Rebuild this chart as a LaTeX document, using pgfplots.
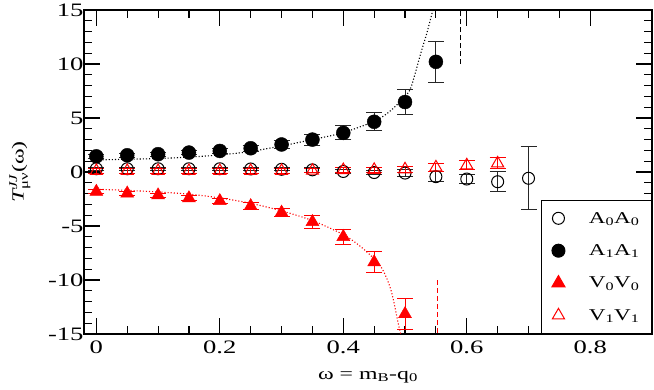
\documentclass[border=0pt]{standalone}
\usepackage{amsmath}
\usepackage{fontspec}
\setmainfont{Liberation Serif}[FakeStretch=1.4]
\usepackage{pgfplots}
\pgfplotsset{compat=1.18}

% A0A0 open circles, A1A1 filled circles, V0V0 filled triangles, V1V1 open triangles
\pgfplotstableread{
x     y      e
0.00  0.30   0.15
0.05  0.30   0.15
0.10  0.30   0.15
0.15  0.30   0.15
0.20  0.30   0.15
0.25  0.28   0.15
0.30  0.25   0.15
0.35  0.20   0.20
0.40  0.05   0.20
0.45  -0.05  0.20
0.50  -0.10  0.30
0.55  -0.43  0.45
0.60  -0.65  0.45
0.65  -0.90  0.95
0.70  -0.58  2.90
}\tabAzero
\pgfplotstableread{
x     y      e
0.00  1.45   0.20
0.05  1.55   0.20
0.10  1.65   0.20
0.15  1.80   0.20
0.20  1.95   0.25
0.25  2.20   0.30
0.30  2.55   0.40
0.35  3.00   0.50
0.40  3.62   0.65
0.45  4.65   0.85
0.50  6.48   1.20
0.55  10.20  1.90
}\tabAone
\pgfplotstableread{
x     y      e
0.00  -1.82  0.20
0.05  -1.98  0.20
0.10  -2.15  0.20
0.15  -2.42  0.20
0.20  -2.68  0.25
0.25  -3.15  0.30
0.30  -3.75  0.40
0.35  -4.62  0.60
0.40  -6.00  0.72
0.45  -8.35  1.00
0.50  -13.15 1.45
}\tabVzero
\pgfplotstableread{
x     y      e
0.00  0.10   0.20
0.05  0.10   0.20
0.10  0.10   0.20
0.15  0.10   0.20
0.20  0.10   0.20
0.25  0.10   0.20
0.30  0.10   0.20
0.35  0.12   0.20
0.40  0.18   0.22
0.45  0.20   0.25
0.50  0.25   0.30
0.55  0.43   0.40
0.60  0.62   0.40
0.65  0.80   0.50
}\tabVone

\begin{document}
\begin{tikzpicture}
\begin{axis}[
  at={(0,0)}, anchor=south west,
  scale only axis,
  width=568pt, height=324pt,
  xmin=-0.02, xmax=0.9,
  ymin=-15, ymax=15,
  xtick={0,0.2,0.4,0.6,0.8},
  xticklabels={0,0.2,0.4,0.6,0.8},
  ytick={-15,-10,-5,0,5,10,15},
  yticklabels={-15,-10,-5,0,5,10,15},
  minor x tick num=3,
  minor y tick num=4,
  tick align=inside,
  major tick length=16pt,
  minor tick length=8pt,
  axis line style={line width=1.1pt},
  every tick/.style={black, line width=1.1pt},
  tick label style={font=\fontsize{19}{21}\selectfont},
  xticklabel style={yshift=-3pt},
  yticklabel style={xshift=3pt},
  label style={font=\fontsize{17}{19}\selectfont},
  xlabel={ω = m\textsubscript{B}-q\textsubscript{0}},
  ylabel={$\textit{T}^{\textit{JJ}}_{\text{μν}}\text{(ω)}$},
  xlabel style={at={(axis description cs:0.5,0)}, anchor=base, yshift=-45pt},
  ylabel style={at={(axis description cs:-0.088,0.5)}, anchor=south},
  legend style={
    at={(1,0)}, anchor=south east,
    draw=black, line width=1pt,
    font=\fontsize{16.5}{18}\selectfont,
    inner xsep=10pt, inner ysep=10pt,
    row sep=16pt,
    cells={anchor=west},
    /tikz/every odd column/.append style={column sep=22pt}
  },
  legend cell align=left,
]
% legend entries
\addlegendimage{only marks, mark=o, mark size=6pt, black, line width=1pt}
\addlegendentry{A\textsubscript{0}A\textsubscript{0}}
\addlegendimage{only marks, mark=*, mark size=6.5pt, black}
\addlegendentry{A\textsubscript{1}A\textsubscript{1}}
\addlegendimage{only marks, mark=triangle*, mark size=7.5pt, red}
\addlegendentry{V\textsubscript{0}V\textsubscript{0}}
\addlegendimage{only marks, mark=triangle, mark size=7pt, red, line width=1pt}
\addlegendentry{V\textsubscript{1}V\textsubscript{1}}

% fitted curves
\addplot[forget plot, black, dotted, line width=1.1pt, smooth] coordinates {
(0,1.12)(0.05,1.18)(0.1,1.25)(0.15,1.38)(0.2,1.58)(0.25,1.9)(0.3,2.42)
(0.35,3.0)(0.4,3.65)(0.45,4.7)(0.475,5.6)(0.5,7.0)(0.51,7.9)(0.525,10.9)
(0.535,12.8)(0.546,15.2)};
\addplot[forget plot, red, dotted, line width=1.1pt, smooth] coordinates {
(0,-1.6)(0.05,-1.7)(0.1,-1.85)(0.15,-2.05)(0.2,-2.4)(0.25,-2.9)(0.3,-3.6)
(0.35,-4.5)(0.4,-5.8)(0.43,-7.0)(0.46,-8.7)(0.477,-10.9)(0.49,-14.3)(0.494,-15.2)};
% thresholds
\addplot[forget plot, black, line width=0.9pt, dash pattern=on 5pt off 3pt]
  coordinates {(0.589,10)(0.589,15)};
\addplot[forget plot, red, line width=0.9pt, dash pattern=on 5pt off 3pt]
  coordinates {(0.552,-10)(0.552,-15)};

% data
\addplot[forget plot, only marks, mark=o, mark size=6pt, black, line width=1pt,
  error bars/.cd, y dir=both, y explicit,
  error bar style={line width=1pt, black!85},
  error mark options={rotate=90, mark size=8pt, line width=1pt, black!85}]
  table[x=x, y=y, y error=e] {\tabAzero};
\addplot[forget plot, only marks, mark=*, mark size=7pt, black,
  error bars/.cd, y dir=both, y explicit,
  error bar style={line width=1pt, black!85},
  error mark options={rotate=90, mark size=8pt, line width=1pt, black!85}]
  table[x=x, y=y, y error=e] {\tabAone};
\addplot[forget plot, only marks, mark=triangle*, mark size=7.5pt, red,
  error bars/.cd, y dir=both, y explicit,
  error bar style={line width=1pt, red},
  error mark options={rotate=90, mark size=8pt, line width=1pt, red}]
  table[x=x, y=y, y error=e] {\tabVzero};
\addplot[forget plot, only marks, mark=triangle, mark size=7pt, red, line width=1pt,
  error bars/.cd, y dir=both, y explicit,
  error bar style={line width=1pt, red},
  error mark options={rotate=90, mark size=8pt, line width=1pt, red}]
  table[x=x, y=y, y error=e] {\tabVone};
\end{axis}
\pgfresetboundingbox
\path[use as bounding box] (-84pt,-55pt) rectangle (570pt,334pt);
\end{tikzpicture}
\end{document}
